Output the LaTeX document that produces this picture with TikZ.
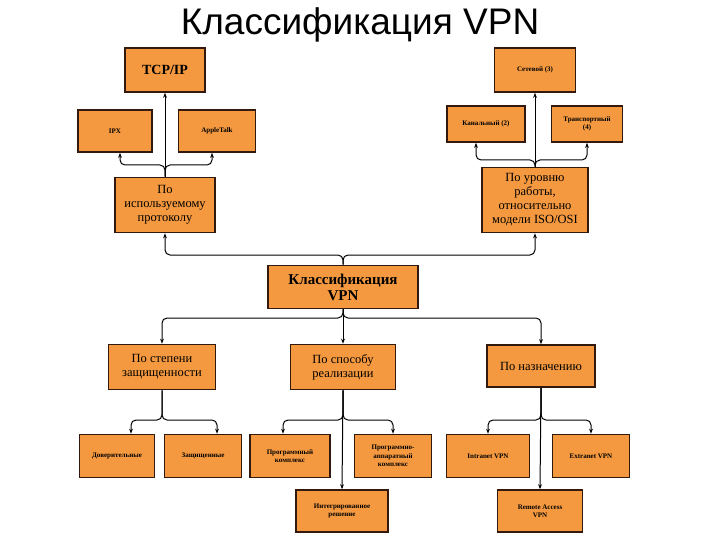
\documentclass[tikz,border=0pt]{standalone}
\usepackage{fontspec}
\setmainfont{Liberation Serif}
\newfontfamily\titlefont{Liberation Sans}
\usetikzlibrary{arrows.meta}
\definecolor{boxorange}{rgb}{0.96,0.60,0.25}
\definecolor{boxedge}{rgb}{0.20,0.10,0.05}
\tikzset{
  box/.style={draw=boxedge, line width=1.6pt, fill=boxorange, align=center,
    inner sep=1pt, font=\bfseries\fontsize{7}{8.5}\selectfont},
  mid/.style={font=\fontsize{12.5}{14}\selectfont},
  link/.style={line width=1pt, rounded corners=5pt, -{Stealth[length=5pt]}},
}
\begin{document}
\begin{tikzpicture}[x=1pt,y=-1pt]
\useasboundingbox (0,0) rectangle (720,540);

%%%%%%%%%%%%%%%%%%%%%%%%%%%%%%%%%%%%%%%%%%%%%%%%%%%%%%%%%%%%%% Title
\node[font=\titlefont\fontsize{37}{38}\selectfont] (title) at (360,25) {Классификация VPN};

%%%%%%%%%%%%%%%%%%%%%%%%%%%%%%%%%%%%%%%%%%%%%%%%%%%%%%%%%%%%%% Boxes
\node[box, minimum width=80, minimum height=44, font=\bfseries\fontsize{14}{15}\selectfont] (tcp) at (165,70) {TCP/IP};
\node[box, minimum width=74, minimum height=42] (ipx) at (115,131) {IPX};
\node[box, minimum width=77, minimum height=42] (apple) at (217,131) {AppleTalk};
\node[box, mid, minimum width=100, minimum height=55] (proto) at (165,205) {По\\используемому\\протоколу};

\node[box, minimum width=81, minimum height=44] (net) at (535,70) {Сетевой (3)};
\node[box, minimum width=78, minimum height=36] (chan) at (486,124) {Канальный (2)};
\node[box, minimum width=71, minimum height=36] (trans) at (587,124) {Транспортный\\(4)};
\node[box, mid, minimum width=106, minimum height=65] (osi) at (535,200) {По уровню\\работы,\\относительно\\модели ISO/OSI};

\node[box, minimum width=150, minimum height=43, font=\bfseries\fontsize{15}{16}\selectfont] (root) at (343,287) {Классификация\\VPN};

\node[box, mid, minimum width=107, minimum height=45] (sec) at (162,367) {По степени\\защищенности};
\node[box, mid, minimum width=105, minimum height=45] (impl) at (343,367) {По способу\\реализации};
\node[box, mid, minimum width=108, minimum height=42] (purp) at (541,366) {По назначению};

\node[box, minimum width=75, minimum height=43] (trust) at (117,456) {Доверительные};
\node[box, minimum width=77, minimum height=43] (prot) at (203,456) {Защищенные};
\node[box, minimum width=80, minimum height=43] (soft) at (290,456) {Программный\\комплекс};
\node[box, minimum width=77, minimum height=43] (hard) at (393,456) {Программно-\\аппаратный\\комплекс};
\node[box, minimum width=92, minimum height=42] (integ) at (342,511) {Интегрированное\\решение};
\node[box, minimum width=83, minimum height=43] (intra) at (488,456) {Intranet VPN};
\node[box, minimum width=77, minimum height=43] (extra) at (591,456) {Extranet VPN};
\node[box, minimum width=85, minimum height=42] (remote) at (540,511) {Remote Access\\VPN};

%%%%%%%%%%%%%%%%%%%%%%%%%%%%%%%%%%%%%%%%%%%%%%%%%%%%%%%%%%%%%% Links
\coordinate (upfork) at (343,255);
\draw[link] (root.north) -- (upfork) -| (proto.south);
\draw[link] (root.north) -- (upfork) -| (osi.south);

\coordinate (pfork) at (165,165);
\draw[link] (proto.north) -- (tcp.south);
\draw[link] (proto.north) -- (pfork) -| ([xshift=5]ipx.south);
\draw[link] (proto.north) -- (pfork) -| ([xshift=-5]apple.south);

\coordinate (ofork) at (535,160);
\draw[link] (osi.north) -- (net.south);
\draw[link] (osi.north) -- (ofork) -| ([xshift=-10]chan.south);
\draw[link] (osi.north) -- (ofork) -| (trans.south);

\coordinate (dnfork) at (343,318);
\draw[link] (root.south) -- (dnfork) -| (sec.north);
\draw[link] (root.south) -- (impl.north);
\draw[link] (root.south) -- (dnfork) -| (purp.north);

\coordinate (sfork) at (162,420);
\draw[link] (sec.south) -- (sfork) -| ([xshift=14]trust.north);
\draw[link] (sec.south) -- (sfork) -| ([xshift=14]prot.north);

\coordinate (ifork) at (343,420);
\draw[link] (impl.south) -- (integ.north);
\draw[link] (impl.south) -- (ifork) -| ([xshift=-7]soft.north);
\draw[link] (impl.south) -- (ifork) -| (hard.north);

\coordinate (nfork) at (541,420);
\draw[link] (purp.south) -- (remote.north);
\draw[link] (purp.south) -- (nfork) -| (intra.north);
\draw[link] (purp.south) -- (nfork) -| (extra.north);

\end{tikzpicture}
\end{document}
